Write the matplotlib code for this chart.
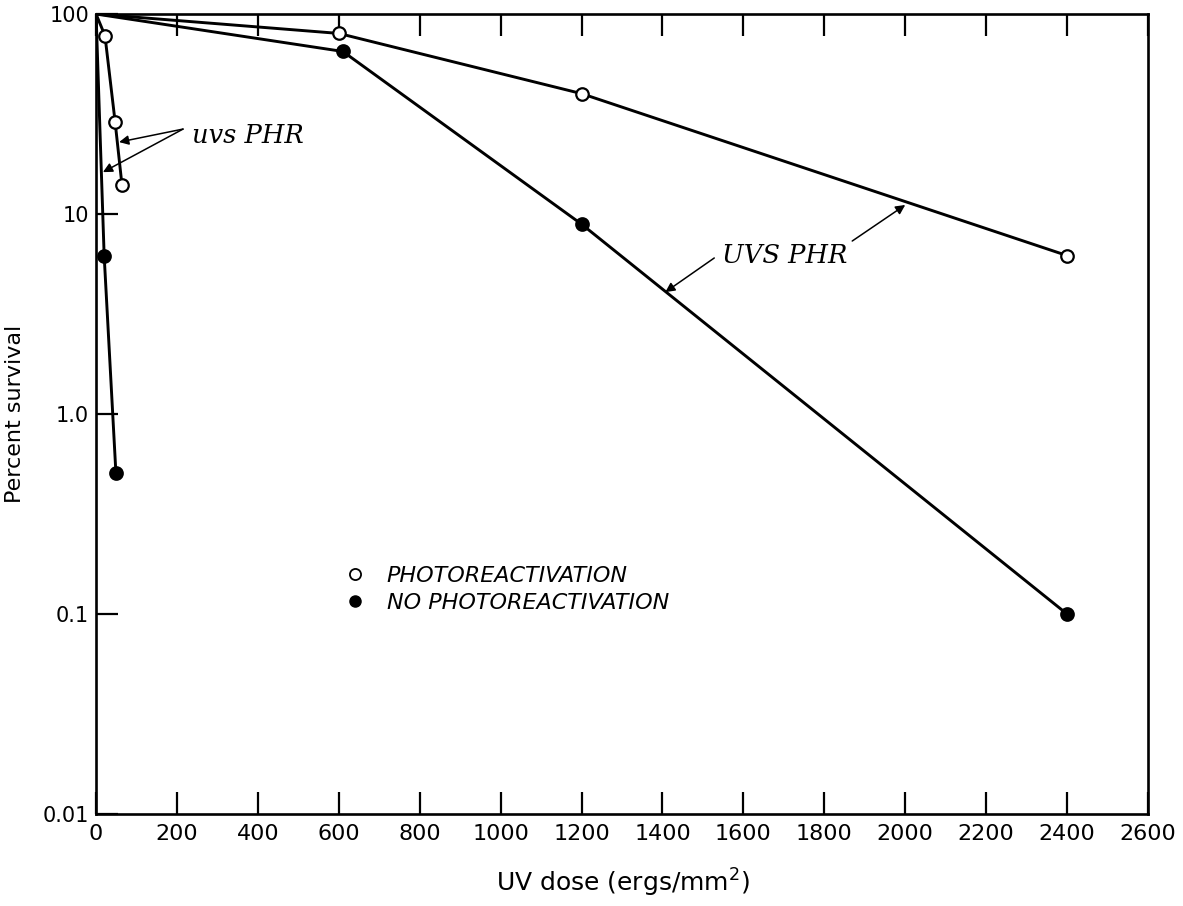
import matplotlib
matplotlib.use('Agg')
import matplotlib.pyplot as plt
from matplotlib.lines import Line2D
from matplotlib.ticker import FixedLocator, FixedFormatter, NullLocator

### Data
# UVS PHR strain
uvs_photo_dose = [0, 600, 1200, 2400]
uvs_photo_surv = [100, 80, 40, 6.2]
uvs_dark_dose = [0, 610, 1200, 2400]
uvs_dark_surv = [100, 65, 8.9, 0.1]

# uvs PHR strain
small_photo_dose = [0, 22, 47, 64]
small_photo_surv = [100, 78, 29, 14]
small_dark_dose = [0, 20, 49]
small_dark_surv = [100, 6.2, 0.51]

x_ticks = list(range(0, 2601, 200))
y_ticks = [0.01, 0.1, 1.0, 10, 100]
y_tick_labels = ['0.01', '0.1', '1.0', '10', '100']

### Charting
fig = plt.figure(figsize=(11.83, 9.06), dpi=100)
ax = fig.add_axes([0.0812, 0.1015, 0.8892, 0.883])

line_kw = dict(color='black', lw=2.1, marker='o', markersize=9,
               markeredgecolor='black', markeredgewidth=1.6)
ax.plot(uvs_photo_dose, uvs_photo_surv, markerfacecolor='white', markevery=[1, 2, 3], **line_kw)
ax.plot(uvs_dark_dose, uvs_dark_surv, markerfacecolor='black', markevery=[1, 2, 3], **line_kw)
ax.plot(small_photo_dose, small_photo_surv, markerfacecolor='white', markevery=[1, 2, 3], **line_kw)
ax.plot(small_dark_dose, small_dark_surv, markerfacecolor='black', markevery=[1, 2], **line_kw)

ax.set_yscale('log')
ax.set_xlim(0, 2600)
ax.set_ylim(0.01, 100)

ax.xaxis.set_major_locator(FixedLocator(x_ticks))
ax.xaxis.set_minor_locator(NullLocator())
ax.yaxis.set_major_locator(FixedLocator(y_ticks))
ax.yaxis.set_major_formatter(FixedFormatter(y_tick_labels))
ax.yaxis.set_minor_locator(NullLocator())

ax.tick_params(axis='x', which='major', direction='in', length=16, width=1.6,
               top=True, bottom=True, labelsize=16, pad=7)
ax.tick_params(axis='y', which='major', direction='in', length=16, width=1.6,
               left=True, right=False, labelsize=15, pad=5)
for s in ax.spines.values():
    s.set_linewidth(1.9)

ax.set_xlabel('UV dose (ergs/mm$^2$)', fontsize=18)
ax.set_ylabel('Percent survival', fontsize=16)
ax.xaxis.set_label_coords(0.501, -0.066)
ax.yaxis.set_label_coords(-0.068, 0.5)

# legend
handles = [Line2D([], [], ls='none', marker='o', markersize=8, markerfacecolor='white',
                  markeredgecolor='black', markeredgewidth=1.3),
           Line2D([], [], ls='none', marker='o', markersize=8, markerfacecolor='black',
                  markeredgecolor='black')]
ax.legend(handles, ['PHOTOREACTIVATION', 'NO PHOTOREACTIVATION'], loc='upper left',
          bbox_to_anchor=(0.217, 0.335), frameon=False, handlelength=1.0,
          handletextpad=0.9, labelspacing=0.3,
          prop=dict(size=16, style='italic'))

# annotations
arrow = dict(arrowstyle='-|>', lw=1.1, color='black', mutation_scale=14,
             shrinkA=0, shrinkB=0)
ax.text(237, 24.8, 'uvs PHR', fontsize=18.5, family='DejaVu Serif', style='italic', va='center')
ax.annotate('', xy=(57, 22.9), xytext=(215, 26.6), arrowprops=arrow)
ax.annotate('', xy=(17, 16.2), xytext=(215, 26.6), arrowprops=arrow)

ax.text(1546, 6.24, 'UVS PHR', fontsize=18.5, family='DejaVu Serif', style='italic', va='center')
ax.annotate('', xy=(1407, 4.07), xytext=(1528, 6.03), arrowprops=arrow)
ax.annotate('', xy=(2000, 11.1), xytext=(1869, 7.33), arrowprops=arrow)

plt.savefig('out.png', dpi=100)
